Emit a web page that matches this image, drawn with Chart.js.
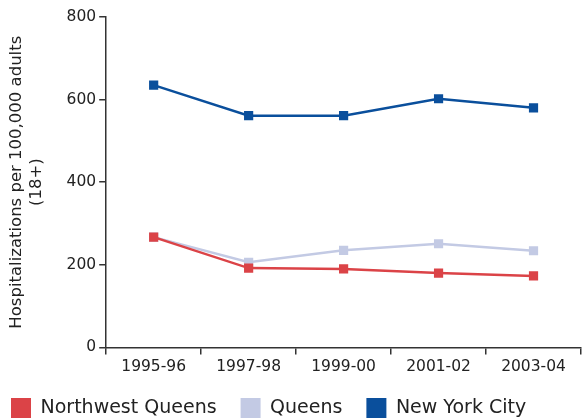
<!DOCTYPE html>
<html><head><meta charset="utf-8">
<script src="https://cdn.jsdelivr.net/npm/chart.js@4/dist/chart.umd.min.js"></script>
<style>html,body{margin:0;padding:0;background:#fff;}#wrap{width:583px;height:419px;}</style>
</head><body><div id="wrap"><canvas id="c" width="583" height="419"></canvas></div>
<script>
const categories = ["1995-96","1997-98","1999-00","2001-02","2003-04"];
const northwestQueens = [267,192,190,180,173];
const queens = [267,206,235,251,234];
const newYorkCity = [635,561,561,602,580];
const yTicks = [0,200,400,600,800];

const FONT = "'DejaVu Sans', sans-serif";
const AX = '#333333';
const LEG_PAD = 24;
function ds(label, data, color){
  return {label, data, borderColor: color, backgroundColor: color, borderWidth: 2.5,
    pointStyle: 'rect', pointRadius: 6.5, pointBorderWidth: 0, tension: 0};
}
const legendTweak = {
  id: 'legendTweak',
  beforeUpdate(chart){
    const lg = chart.legend;
    if (lg && !lg._wrapped){
      const orig = lg.fit;
      lg.fit = function(){ orig.call(this); this.height = 40; };
      lg._wrapped = true;
    }
  },
  afterLayout(chart){
    const lg = chart.legend;
    lg.left = 11 - LEG_PAD;
    lg.top = 398 - LEG_PAD;
  }
};
new Chart(document.getElementById('c'), {
  type: 'line',
  data: { labels: categories, datasets: [
    ds('Northwest Queens', northwestQueens, '#db4347'),
    ds('Queens', queens, '#c3cae4'),
    ds('New York City', newYorkCity, '#0a4f9c')
  ]},
  plugins: [legendTweak],
  options: {
    responsive: false, animation: false, devicePixelRatio: 1,
    layout: { autoPadding: false, padding: { left: 7, right: 2, top: 17, bottom: 0 } },
    plugins: {
      legend: { position: 'bottom', align: 'start',
        labels: { boxWidth: 20, boxHeight: 20, useBorderRadius: false, color: '#222', padding: LEG_PAD,
          font: { family: FONT, size: 19 },
          generateLabels(chart){ return chart.data.datasets.map((d,i)=>({text:d.label, fillStyle:d.borderColor, strokeStyle:d.borderColor, lineWidth:0, datasetIndex:i, fontColor:'#222'})); } } },
      tooltip: { enabled: false }
    },
    scales: {
      x: { offset: true,
        afterFit(s){ s.paddingRight = 0; s.paddingLeft = 0; },
        grid: { drawOnChartArea: false, offset: true, tickLength: 7, color: AX, lineWidth: 1.5 },
        border: { color: AX, width: 1.5 },
        ticks: { color: '#222', font: { family: FONT, size: 15.5 }, padding: 3, maxRotation: 0 } },
      y: { min: 0, max: 800,
        afterBuildTicks(s){ s.ticks = yTicks.map(v=>({value:v})); },
        grid: { drawOnChartArea: false, tickLength: 7, color: AX, lineWidth: 1.5 },
        border: { color: AX, width: 1.5 },
        ticks: { color: '#222', font: { family: FONT, size: 15.5 }, padding: 3 },
        title: { display: true, text: ['Hospitalizations per 100,000 adults','(18+)'], color: '#222',
          font: { family: FONT, size: 16.5 }, padding: { top: 0, bottom: 17 } } }
    }
  }
});
</script></body></html>
